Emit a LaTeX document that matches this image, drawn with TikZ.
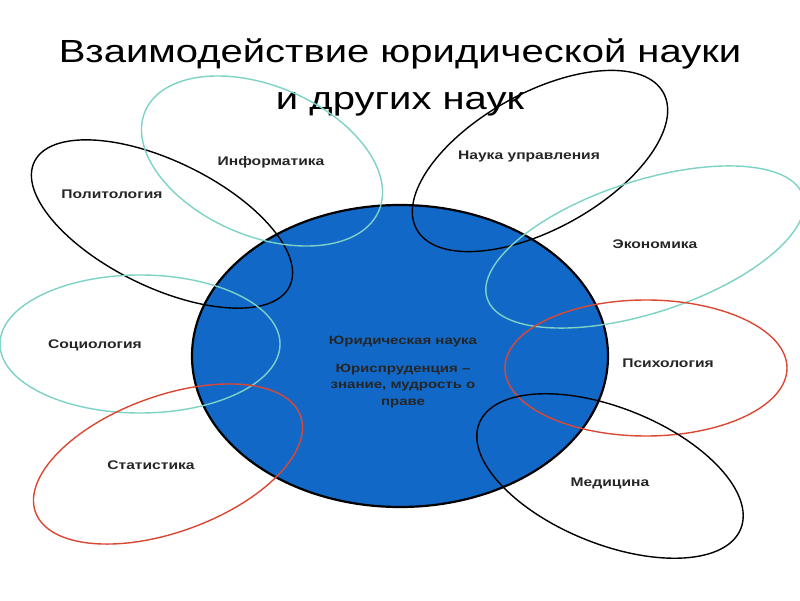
\documentclass[tikz,border=0pt]{standalone}
\usepackage{fontspec}
\setmainfont{Liberation Sans}[FakeStretch=1.25]
\definecolor{lawblue}{RGB}{18,104,198}
\definecolor{ringteal}{RGB}{125,210,198}
\definecolor{ringred}{RGB}{218,72,52}
\begin{document}
\begin{tikzpicture}[x=1pt, y=1pt,
    ring/.style={line width=1.4pt},
    science/.style={font=\bfseries\fontsize{12.5}{15}\selectfont, text=black!85},
    core/.style={font=\bfseries\fontsize{12}{16.5}\selectfont, text=black!85, align=center}]
      \useasboundingbox (0,0) rectangle (800,600);
      \clip (0,0) rectangle (800,600);
      \fill[white] (0,0) rectangle (800,600);

      \node[anchor=base, font=\fontsize{32}{38}\selectfont] (title1) at (400,537) {Взаимодействие юридической науки};
      \node[anchor=base, font=\fontsize{32}{38}\selectfont] (title2) at (400,490) {и других наук};

      \draw[line width=2.2pt, fill=lawblue] (400,244) ellipse [x radius=208, y radius=151];

      \foreach \cx/\cy/\a/\b/\ang/\col in {162/376/142/63/-26/black, 262/439/127/75/-23/ringteal,
          540/439/141/68/29/black, 645/353/166/66/18/ringteal, 140/256/140/69/0/ringteal,
          646/232/141/68/0/ringred, 168/136/141/68/20/ringred, 610/124/141/68/-22/black}
      \draw[ring, \col, rotate around={\ang:(\cx,\cy)}] (\cx,\cy) ellipse [x radius=\a, y radius=\b];

      \node[core] (law) at (403,258) {Юридическая наука};
      \node[core] (juris) at (403,214) {Юриспруденция --\\знание, мудрость о\\праве};

      \node[science] (polit) at (112,406) {Политология};
      \node[science] (inform) at (271,438) {Информатика};
      \node[science] (manage) at (529,443) {Наука управления};
      \node[science] (econ) at (655,356) {Экономика};
      \node[science] (socio) at (95,255) {Социология};
      \node[science] (stat) at (151,135) {Статистика};
      \node[science] (psych) at (668,237) {Психология};
      \node[science] (med) at (610,117) {Медицина};
    \end{tikzpicture}
\end{document}
